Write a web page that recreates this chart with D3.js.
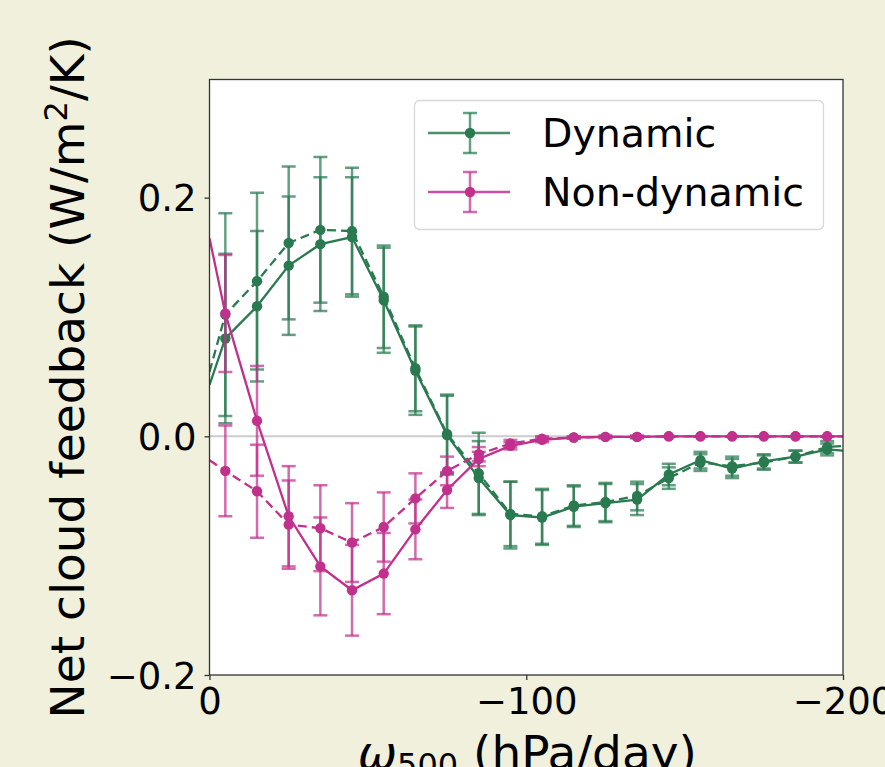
<!DOCTYPE html>
<html>
<head>
<meta charset="utf-8">
<script src="https://cdn.jsdelivr.net/npm/d3@7"></script>
<style>
  html, body { margin: 0; padding: 0; background: #f0f0dc; overflow: hidden; }
  svg { display: block; font-family: "DejaVu Sans", sans-serif; }
</style>
</head>
<body>
<svg id="chart" width="885" height="767"></svg>
<script>
// Bin centres of omega500 (hPa/day) where the feedback is evaluated
const omega = [-5, -15, -25, -35, -45, -55, -65, -75, -85, -95,
               -105, -115, -125, -135, -145, -155, -165, -175, -185, -195];
// Line end points at the axis limits (no markers there)
const omegaEdges = [0, -200];

// Dynamic component: solid and dashed variants with their error half-widths
const dynSolid = [0.082, 0.109, 0.143, 0.161, 0.167, 0.114, 0.055, 0.001, -0.035, -0.066,
                  -0.068, -0.059, -0.056, -0.053, -0.032, -0.020, -0.027, -0.021, -0.017, -0.011];
const dynSolidErr = [0.071, 0.063, 0.058, 0.056, 0.050, 0.044, 0.037, 0.033, 0.031, 0.028,
                     0.023, 0.017, 0.016, 0.013, 0.009, 0.007, 0.008, 0.006, 0.005, 0.005];
const dynSolidEdges = [0.043, -0.012];

const dynDashed = [0.102, 0.130, 0.162, 0.173, 0.172, 0.117, 0.057, 0.002, -0.031, -0.065,
                   -0.067, -0.058, -0.055, -0.050, -0.035, -0.022, -0.025, -0.022, -0.017, -0.009];
const dynDashedErr = [0.085, 0.074, 0.064, 0.061, 0.053, 0.043, 0.036, 0.033, 0.034, 0.027,
                      0.023, 0.017, 0.016, 0.012, 0.009, 0.007, 0.008, 0.006, 0.005, 0.005];
const dynDashedEdges = [0.054, -0.008];

// Non-dynamic component
const nonSolid = [0.103, 0.013, -0.067, -0.109, -0.129, -0.115, -0.078, -0.045, -0.019, -0.008,
                  -0.003, -0.001, -0.0005, -0.0005, 0, 0, 0, 0, 0, 0];
const nonSolidErr = [0.049, 0.046, 0.042, 0.041, 0.038, 0.034, 0.025, 0.015, 0.006, 0.003,
                     0.002, 0.001, 0.001, 0.001, 0, 0, 0, 0, 0, 0];
const nonSolidEdges = [0.166, 0];

const nonDashed = [-0.029, -0.046, -0.074, -0.077, -0.089, -0.076, -0.052, -0.029, -0.015, -0.006,
                   -0.002, -0.001, -0.0005, -0.0005, 0, 0, 0, 0, 0, 0];
const nonDashedErr = [0.038, 0.039, 0.037, 0.036, 0.033, 0.029, 0.021, 0.012, 0.006, 0.003,
                      0.002, 0.001, 0.001, 0.001, 0, 0, 0, 0, 0, 0];
const nonDashedEdges = [-0.020, 0];

const xTicks = [0, -100, -200];
const yTicks = [-0.2, 0.0, 0.2];
const legendLabels = ["Dynamic", "Non-dynamic"];

const GREEN = "#2a7a50";
const MAGENTA = "#c2308d";

const svg = d3.select("#chart");
const plot = { left: 209.5, right: 843, top: 79.5, bottom: 675 };

const x = d3.scaleLinear().domain([0, -200]).range([plot.left, plot.right]);
const y = d3.scaleLinear().domain([-0.2, 0.3]).range([plot.bottom, plot.top - 1.2]);

// plot area background
svg.append("rect")
  .attr("x", plot.left).attr("y", plot.top)
  .attr("width", plot.right - plot.left).attr("height", plot.bottom - plot.top)
  .attr("fill", "#ffffff");

svg.append("defs").append("clipPath").attr("id", "plotclip")
  .append("rect")
  .attr("x", plot.left).attr("y", plot.top)
  .attr("width", plot.right - plot.left).attr("height", plot.bottom - plot.top);

const g = svg.append("g").attr("clip-path", "url(#plotclip)");

// zero reference line
g.append("line")
  .attr("x1", plot.left).attr("x2", plot.right)
  .attr("y1", y(0)).attr("y2", y(0))
  .attr("stroke", "#cccccc").attr("stroke-width", 2);

function buildSeries(vals, errs, edges) {
  const pts = omega.map((o, i) => ({ x: o, y: vals[i], e: errs[i] }));
  const line = [{ x: omegaEdges[0], y: edges[0] }, ...pts, { x: omegaEdges[1], y: edges[1] }];
  return { pts, line };
}

const series = [
  { ...buildSeries(dynSolid, dynSolidErr, dynSolidEdges), color: GREEN, dash: null },
  { ...buildSeries(dynDashed, dynDashedErr, dynDashedEdges), color: GREEN, dash: "9,5" },
  { ...buildSeries(nonSolid, nonSolidErr, nonSolidEdges), color: MAGENTA, dash: null },
  { ...buildSeries(nonDashed, nonDashedErr, nonDashedEdges), color: MAGENTA, dash: "9,5" }
];

const lineGen = d3.line().x(d => x(d.x)).y(d => y(d.y));
const CAP = 7;

series.forEach(s => {
  const sg = g.append("g");
  // error bars
  const eb = sg.append("g")
    .attr("stroke", s.color).attr("stroke-opacity", 0.72).attr("stroke-width", 2.5);
  s.pts.forEach(p => {
    const cx = x(p.x), y1 = y(p.y + p.e), y2 = y(p.y - p.e);
    eb.append("line").attr("x1", cx).attr("x2", cx).attr("y1", y1).attr("y2", y2);
    eb.append("line").attr("x1", cx - CAP).attr("x2", cx + CAP).attr("y1", y1).attr("y2", y1);
    eb.append("line").attr("x1", cx - CAP).attr("x2", cx + CAP).attr("y1", y2).attr("y2", y2);
  });
  // line
  sg.append("path")
    .datum(s.line)
    .attr("d", lineGen)
    .attr("fill", "none")
    .attr("stroke", s.color)
    .attr("stroke-width", 2.3)
    .attr("stroke-dasharray", s.dash);
  // markers
  sg.selectAll("circle").data(s.pts).join("circle")
    .attr("cx", d => x(d.x)).attr("cy", d => y(d.y))
    .attr("r", 5.2).attr("fill", s.color);
});

// spines
svg.append("rect")
  .attr("x", plot.left).attr("y", plot.top)
  .attr("width", plot.right - plot.left).attr("height", plot.bottom - plot.top)
  .attr("fill", "none").attr("stroke", "#333333").attr("stroke-width", 1.3);

// axes
const fmtX = d => (d < 0 ? "\u2212" + Math.abs(d) : String(d));
const fmtY = d => (d < 0 ? "\u2212" + Math.abs(d).toFixed(1) : d.toFixed(1));

const xAxis = svg.append("g")
  .attr("transform", `translate(0,${plot.bottom})`)
  .call(d3.axisBottom(x).tickValues(xTicks).tickFormat(fmtX).tickSize(5).tickPadding(6));
const yAxis = svg.append("g")
  .attr("transform", `translate(${plot.left},0)`)
  .call(d3.axisLeft(y).tickValues(yTicks).tickFormat(fmtY).tickSize(5).tickPadding(8));

[xAxis, yAxis].forEach(a => {
  a.select(".domain").remove();
  a.selectAll(".tick line").attr("stroke", "#333333").attr("stroke-width", 1.3);
  a.selectAll(".tick text")
    .attr("fill", "#000000")
    .style("font-family", "DejaVu Sans, sans-serif")
    .style("font-size", "37px");
});
yAxis.selectAll(".tick text").attr("dy", "0.36em");
xAxis.selectAll(".tick text").attr("dy", "0.76em");

// axis titles
const yLab = svg.append("text")
  .attr("transform", `translate(84,${(plot.top + plot.bottom) / 2}) rotate(-90)`)
  .attr("text-anchor", "middle")
  .style("font-size", "47px").attr("fill", "#000");
yLab.append("tspan").text("Net cloud feedback (W/m");
yLab.append("tspan").attr("dy", -17).style("font-size", "32px").text("2");
yLab.append("tspan").attr("dy", 17).text("/K)");

const xLab = svg.append("text")
  .attr("x", (plot.left + plot.right) / 2 + 1)
  .attr("y", 769)
  .attr("text-anchor", "middle")
  .style("font-size", "47px").attr("fill", "#000");
xLab.append("tspan").style("font-style", "italic").text("\u03c9");
xLab.append("tspan").attr("dy", 7).style("font-size", "32px").text("500");
xLab.append("tspan").attr("dy", -7).text(" (hPa/day)");

// legend
const legend = svg.append("g");
legend.append("rect")
  .attr("x", 414.5).attr("y", 100.5).attr("width", 409).attr("height", 129)
  .attr("rx", 5).attr("fill", "#ffffff").attr("fill-opacity", 0.8)
  .attr("stroke", "#d8d8d8").attr("stroke-width", 1.3);

const legendItems = [
  { label: legendLabels[0], color: GREEN, cy: 133 },
  { label: legendLabels[1], color: MAGENTA, cy: 192 }
];
legendItems.forEach(it => {
  const lg = legend.append("g");
  lg.append("line").attr("x1", 428).attr("x2", 510).attr("y1", it.cy).attr("y2", it.cy)
    .attr("stroke", it.color).attr("stroke-opacity", 0.85).attr("stroke-width", 2.4);
  lg.append("line").attr("x1", 470).attr("x2", 470).attr("y1", it.cy - 20).attr("y2", it.cy + 20)
    .attr("stroke", it.color).attr("stroke-opacity", 0.72).attr("stroke-width", 2.5);
  [it.cy - 20, it.cy + 20].forEach(cyy => {
    lg.append("line").attr("x1", 470 - CAP).attr("x2", 470 + CAP).attr("y1", cyy).attr("y2", cyy)
      .attr("stroke", it.color).attr("stroke-opacity", 0.72).attr("stroke-width", 2.5);
  });
  lg.append("circle").attr("cx", 470).attr("cy", it.cy).attr("r", 5.2).attr("fill", it.color);
  lg.append("text").attr("x", 542).attr("y", it.cy + 14)
    .style("font-size", "39.5px").attr("fill", "#000").text(it.label);
});
</script>
</body>
</html>
